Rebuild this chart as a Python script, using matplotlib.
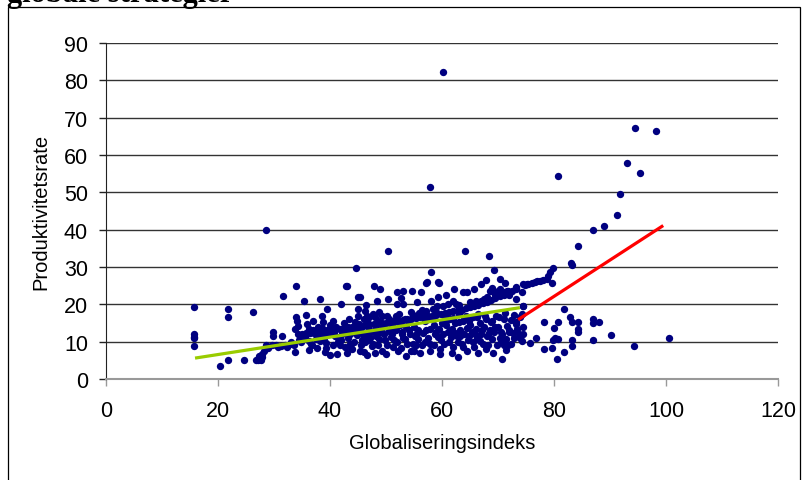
import matplotlib.pyplot as plt
from matplotlib.patches import Rectangle

# sparse points on the left side
left_x = [15.8, 15.8, 15.8, 15.8, 15.8, 21.8, 21.8, 26.2, 28.5, 20.4, 21.8, 24.7,
          26.8, 27.2, 27.6, 27.8, 27.4, 27.9, 28.2, 28.5, 29.0, 29.9, 29.9, 29.6]
left_y = [19.3, 12.1, 11.3, 10.9, 8.9, 18.8, 16.6, 17.9, 40.0, 3.6, 5.0, 5.0,
          5.0, 5.2, 5.0, 5.8, 6.2, 6.8, 7.4, 9.2, 8.3, 12.5, 11.5, 9.0]

# main cloud, x 30-60
core_x = [30.3, 30.8, 31.4, 31.6, 31.2, 32.0, 32.4, 32.8, 33.0, 33.7, 33.9, 34.0, 34.1, 34.3,
          33.8, 34.5, 34.8, 35.4, 35.7, 35.9, 36.2, 36.0, 35.6, 36.3, 36.6, 37.2, 37.5, 37.8,
          38.3, 38.5, 38.7, 38.6, 38.9, 39.0, 39.2, 39.3, 39.1, 39.5, 40.0, 40.3, 40.8, 41.0,
          41.3, 41.5, 41.2, 41.7, 42.3, 42.5, 42.8, 43.0, 43.2, 43.5, 43.8, 44.0, 44.0, 44.6,
          45.0, 45.0, 45.0, 45.2, 45.4, 44.8, 45.5, 45.8, 46.2, 46.6, 46.0, 46.8, 45.9, 47.0,
          46.5, 47.2, 46.2, 47.5, 46.0, 47.9, 49.0, 48.0, 48.5, 48.8, 49.2, 49.5, 49.0, 48.3,
          49.8, 48.6, 49.3, 50.4, 50.4, 50.5, 50.8, 51.0, 51.3, 51.5, 51.2, 51.9, 52.0, 52.3,
          52.5, 52.8, 53.0, 53.1, 53.0, 53.4, 53.6, 53.8, 54.0, 54.2, 54.4, 54.6, 54.8, 55.0,
          55.2, 55.4, 55.6, 55.8, 56.0, 56.5, 56.8, 57.0, 57.2, 57.3, 57.8, 57.5, 57.8, 58.0,
          58.1, 58.3, 58.5, 58.8, 59.0, 59.3, 59.3, 59.5, 59.6, 59.6, 59.8, 60.0, 42.9, 45.4,
          57.1, 59.5]
core_y = [9.0, 8.6, 11.4, 22.3, 8.9, 9.2, 8.7, 9.5, 10.0, 7.1, 25.0, 16.5, 15.6, 14.2,
          13.4, 10.5, 9.8, 21.0, 17.1, 14.7, 13.5, 12.3, 11.3, 10.3, 9.3, 12.2, 10.8, 11.5,
          21.4, 16.8, 15.2, 13.6, 12.4, 11.0, 9.6, 8.3, 7.1, 18.8, 14.5, 13.2, 12.0, 14.0,
          11.2, 10.0, 6.7, 9.0, 13.5, 15.0, 12.3, 25.0, 11.0, 9.5, 8.4, 13.0, 8.0, 29.7,
          21.9, 18.8, 17.0, 14.6, 7.6, 11.8, 12.5, 10.5, 18.3, 17.0, 16.0, 15.0, 14.2, 13.2,
          12.0, 11.0, 9.8, 8.8, 7.2, 25.0, 24.1, 16.5, 15.5, 18.0, 17.0, 14.0, 12.5, 11.5,
          10.5, 9.0, 7.5, 21.4, 34.4, 16.0, 13.5, 12.0, 15.0, 10.5, 8.5, 23.2, 20.0, 17.5,
          14.5, 12.5, 11.0, 23.7, 20.0, 16.0, 13.8, 9.5, 15.5, 12.0, 7.5, 23.7, 17.2, 14.0,
          11.5, 9.0, 16.5, 13.0, 7.0, 18.5, 17.0, 15.5, 13.0, 25.9, 51.3, 11.0, 9.5, 28.7,
          21.0, 16.0, 14.5, 12.0, 18.0, 25.9, 21.9, 13.5, 8.0, 6.7, 10.5, 15.0, 25.0, 21.9,
          25.7, 25.7]

# dense rising band through the cloud
band_x = [35.0, 35.8, 36.5, 37.3, 38.0, 38.8, 39.5, 40.3, 41.0, 41.8, 42.5, 43.3, 44.0, 44.8,
          45.5, 46.3, 47.0, 47.8, 48.5, 49.3, 50.0, 50.8, 51.5, 52.3, 53.0, 53.8, 54.5, 55.3,
          56.0, 56.8, 57.5, 58.3, 59.0, 59.8, 60.5, 61.3, 62.0, 62.8, 63.5, 64.3, 65.0, 65.8,
          66.5, 67.3, 68.0, 68.8, 69.5, 70.3, 71.0, 71.8, 72.5, 73.3]
band_y = [12.0, 12.2, 12.3, 12.5, 12.7, 12.9, 13.0, 13.1, 13.3, 13.4, 13.6, 13.8, 13.9, 14.0,
          14.2, 14.4, 14.5, 14.7, 14.8, 15.0, 15.1, 15.3, 15.5, 15.6, 15.8, 16.0, 16.1, 16.3,
          16.5, 16.6, 16.8, 17.0, 17.2, 17.4, 17.6, 17.9, 18.1, 18.4, 18.6, 18.9, 19.2, 19.5,
          19.9, 20.3, 20.7, 21.1, 21.6, 22.1, 22.6, 23.0, 23.5, 24.0]

# extra fill of the cloud
fill_x = [33.5, 34.6, 36.8, 37.6, 38.2, 40.5, 42.0, 42.6, 44.3, 45.6, 46.8, 47.6, 48.8, 50.2,
          50.9, 52.0, 52.6, 53.4, 54.8, 55.7, 56.4, 57.0, 58.6, 59.2, 60.3, 61.6, 62.8, 63.8,
          64.8, 65.6, 66.7, 67.8, 68.9, 69.8, 70.8, 71.5, 72.3,
          34.2, 36.9, 37.9, 39.8, 40.9, 42.2, 43.6, 44.6, 46.0, 47.3, 48.1, 49.6, 50.6, 51.8,
          52.9, 54.1, 55.5, 56.6, 57.8, 58.9, 60.1, 61.4, 62.4, 63.3, 64.5, 65.9, 67.2, 68.4,
          69.5, 70.6, 71.9, 72.8,
          37.0, 40.6, 43.4, 44.4, 46.9, 47.7, 50.1, 51.7, 54.4, 55.9, 57.2, 58.4, 59.1, 60.9,
          61.9, 63.1, 64.0, 64.9, 66.2, 67.6, 68.7, 70.2, 71.3, 72.4, 72.9,
          36.2, 40.0, 43.0, 46.6, 48.0, 50.0, 52.2, 53.5, 55.0, 57.9, 61.8, 62.9, 64.4, 66.4,
          69.1, 71.4,
          41.9, 46.4, 48.4, 52.7, 55.6, 56.3, 60.7, 62.1, 65.7, 66.9, 67.9, 69.0, 70.4, 71.2]
fill_y = [9.0, 10.8, 9.0, 8.2, 10.2, 9.0, 10.5, 8.6, 10.0, 9.0, 10.4, 9.5, 10.8, 9.0,
          11.2, 9.8, 8.2, 10.6, 9.5, 10.8, 9.0, 10.0, 9.0, 11.2, 9.5, 11.2, 10.0, 8.6,
          11.5, 9.8, 10.2, 8.0, 10.6, 9.2, 12.0, 10.8, 9.5,
          12.0, 13.2, 14.0, 12.0, 11.5, 12.0, 12.0, 12.8, 11.5, 12.5, 13.0, 12.0, 12.8, 13.2,
          12.0, 13.0, 12.4, 12.2, 13.5, 12.6, 12.0, 13.0, 12.4, 11.6, 13.6, 12.0, 13.2, 12.2,
          13.8, 12.6, 13.2, 11.0,
          15.5, 15.6, 16.0, 15.3, 16.5, 17.5, 17.0, 16.8, 18.0, 17.8, 18.2, 18.8, 19.5, 15.8,
          16.4, 15.2, 16.2, 15.6, 16.6, 17.0, 15.4, 16.5, 17.8, 15.8, 17.2,
          7.8, 6.5, 7.0, 6.4, 7.0, 6.8, 7.4, 6.2, 7.6, 7.4, 7.0, 6.0, 7.4, 7.0,
          6.9, 7.8,
          20.0, 19.8, 21.0, 21.8, 20.6, 23.4, 22.5, 24.2, 24.0, 25.5, 26.5, 24.5, 26.8, 25.6]

# x 60-75
mid_x = [60.2, 61.0, 62.0, 62.5, 63.0, 63.7, 64.4, 64.1, 65.0, 66.0, 67.0, 67.5, 68.0, 68.4,
         68.5, 69.2, 69.5, 70.0, 70.5, 71.0, 71.6, 72.0, 73.3, 73.3, 73.2, 74.5, 74.4, 60.2,
         60.5, 60.8, 61.0, 61.2, 61.5, 61.8, 62.0, 62.3, 62.6, 63.0, 63.2, 63.5, 63.8, 64.0,
         64.3, 64.6, 65.0, 65.3, 65.5, 65.8, 66.0, 66.3, 66.5, 66.8, 67.0, 67.3, 67.5, 67.8,
         68.0, 68.3, 68.6, 69.0, 69.3, 69.6, 70.0, 70.3, 70.6, 70.7, 71.0, 71.0, 71.6, 71.8,
         72.0, 72.7, 73.3, 73.3, 73.4, 73.8, 74.0, 74.2, 74.0, 74.2, 70.4, 68.9, 71.8, 74.5,
         74.5, 74.5, 74.2]
mid_y = [19.5, 20.0, 21.0, 20.2, 19.8, 23.2, 23.2, 34.4, 20.5, 21.0, 20.8, 21.5, 22.0, 32.9,
         23.5, 29.3, 22.5, 23.5, 22.8, 23.2, 23.7, 22.5, 24.6, 24.4, 21.4, 25.4, 19.6, 82.3,
         17.0, 14.5, 12.5, 10.0, 16.0, 13.5, 8.5, 15.0, 11.5, 17.5, 13.0, 9.5, 15.5, 12.0,
         17.0, 10.5, 14.5, 12.5, 16.5, 8.5, 13.5, 11.0, 17.5, 15.0, 12.0, 9.5, 14.0, 16.0,
         11.5, 9.0, 13.0, 15.5, 12.5, 17.0, 14.0, 11.0, 10.0, 5.4, 9.0, 16.0, 14.3, 9.2,
         12.5, 12.2, 15.4, 14.6, 13.5, 12.0, 11.0, 10.3, 16.5, 23.2, 24.1, 23.7, 23.7, 19.6,
         13.9, 12.0, 17.4]

# upper arm rising to the right
arm_x = [74.8, 75.4, 76.0, 76.6, 77.5, 78.1, 78.7, 79.0, 79.3, 79.9, 79.6, 76.9, 75.1, 83.0,
         83.2, 84.3, 87.0, 88.9, 91.2, 91.8, 93.0, 95.4, 94.5, 98.2, 80.8]
arm_y = [25.2, 25.4, 25.7, 25.9, 26.2, 26.5, 26.8, 27.7, 28.6, 29.6, 25.7, 26.2, 25.4, 31.2,
         30.5, 35.7, 40.0, 40.9, 43.9, 49.6, 57.9, 55.2, 67.3, 66.4, 54.3]

# lower right scatter
right_x = [75.7, 76.8, 78.2, 78.3, 79.7, 79.8, 80.2, 80.8, 80.0, 80.6, 80.8, 81.7, 81.7, 82.9,
           83.2, 83.2, 83.2, 84.3, 84.3, 84.3, 87.0, 87.0, 87.0, 88.1, 90.1, 94.2, 100.5]
right_y = [9.6, 11.0, 15.4, 8.0, 8.4, 10.5, 11.0, 10.7, 13.6, 5.4, 15.4, 18.8, 7.1, 16.5,
           15.4, 10.5, 8.9, 15.4, 13.4, 12.5, 16.2, 14.9, 10.5, 15.4, 11.9, 8.8, 11.0]

# trend lines
green_x = [15.9, 73.9]
green_y = [5.6, 19.1]
red_x = [73.6, 99.5]
red_y = [15.9, 41.1]

all_x = left_x + core_x + band_x + fill_x + mid_x + arm_x + right_x
all_y = left_y + core_y + band_y + fill_y + mid_y + arm_y + right_y

plt.rcParams['font.family'] = ['Liberation Sans', 'DejaVu Sans']

fig = plt.figure(figsize=(8.07, 4.81), dpi=100)
ax = fig.add_axes([106 / 807, 1 - 380 / 481, 672 / 807, 336 / 481])

ax.scatter(all_x, all_y, s=28, color='#000080', linewidths=0, zorder=3)
ax.plot(green_x, green_y, color='#99cc00', lw=2.3, zorder=4, solid_capstyle='butt')
ax.plot(red_x, red_y, color='#ff0000', lw=2.3, zorder=4, solid_capstyle='butt')

ax.set_xlim(0, 120)
ax.set_ylim(0, 90)
ax.set_xticks(range(0, 121, 20))
ax.set_yticks(range(0, 91, 10))
ax.grid(axis='y', color='#333333', lw=1.0)
ax.set_axisbelow(True)
for s in ['top', 'right']:
    ax.spines[s].set_visible(False)
ax.spines['left'].set_color('#222222')
ax.spines['bottom'].set_color('#999999')
ax.spines['bottom'].set_linewidth(1.5)
ax.tick_params(axis='x', length=5, width=1, color='#999999', pad=10, labelsize=15.5)
ax.tick_params(axis='y', length=5, width=1, color='#222222', pad=8, labelsize=15.5)

ax.set_xlabel('Globaliseringsindeks', fontsize=14.5)
ax.set_ylabel('Produktivitetsrate', fontsize=14.5)
ax.xaxis.set_label_coords(0.5, -0.16)
ax.yaxis.set_label_coords(-0.083, 0.5)

fig.text(7 / 807, 1 - 2 / 481, 'globale strategier', fontfamily='Liberation Serif',
         fontweight='bold', fontsize=22, va='baseline')
fig.patches.append(Rectangle((7.5 / 807, -0.05), 792.5 / 807, 1.05 - 7.5 / 481,
                             transform=fig.transFigure, fill=False, ec='black', lw=0.9))

fig.savefig('out.png', dpi=100)
